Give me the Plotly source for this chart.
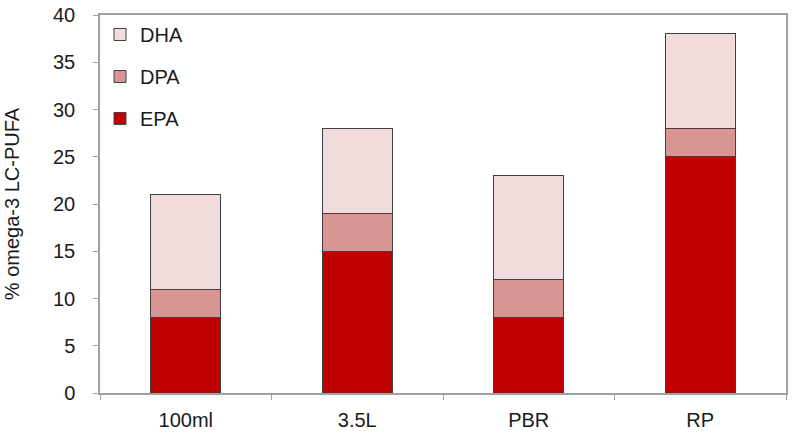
import plotly.graph_objects as go

# ── Data ───────────────────────────────────────────────────────────────────
categories = ["100ml", "3.5L", "PBR", "RP"]
epa = [8, 15, 8, 25]
dpa = [3, 4, 4, 3]
dha = [10, 9, 11, 10]

COLORS = {
    "EPA": "#C00000",
    "DPA": "#D99594",
    "DHA": "#F2DCDB",
}
AXIS_GRAY = "#A0A0A0"
FONT = "Liberation Sans, Arial, sans-serif"

fig = go.Figure()
for rank, (name, vals) in zip([3, 2, 1], [("EPA", epa), ("DPA", dpa), ("DHA", dha)]):
    fig.add_trace(go.Bar(
        x=categories,
        y=vals,
        name=name,
        legendgroup=name,
        legendrank=rank,
        marker=dict(color=COLORS[name], line=dict(color="#404040", width=1)),
    ))

fig.update_layout(
    width=792,
    height=435,
    barmode="stack",
    bargap=0.59,
    paper_bgcolor="white",
    plot_bgcolor="white",
    font=dict(family=FONT, size=20, color="#1a1a1a"),
    margin=dict(l=100, r=4, t=12, b=42),
    legend=dict(
        x=0.0, y=1.0, xanchor="left", yanchor="top",
        traceorder="grouped",
        tracegroupgap=13,
        font=dict(size=20),
        bgcolor="rgba(0,0,0,0)",
        itemwidth=30,
    ),
    xaxis=dict(
        showline=True, linecolor=AXIS_GRAY, linewidth=1.5, mirror=True,
        ticks="outside", tickson="boundaries", ticklen=5, tickcolor=AXIS_GRAY,
        showgrid=False, ticklabelstandoff=8,
    ),
    yaxis=dict(
        range=[0, 40], dtick=5,
        showline=True, linecolor=AXIS_GRAY, linewidth=1.5, mirror=True,
        ticks="outside", ticklen=5, tickcolor=AXIS_GRAY,
        showgrid=False, zeroline=False, ticklabelstandoff=14,
        title=dict(text="% omega-3 LC-PUFA", font=dict(size=20), standoff=28),
    ),
)

fig.write_html(
    "out.html",
    config={"displayModeBar": False},
    post_script="document.body.style.margin='0';",
)
